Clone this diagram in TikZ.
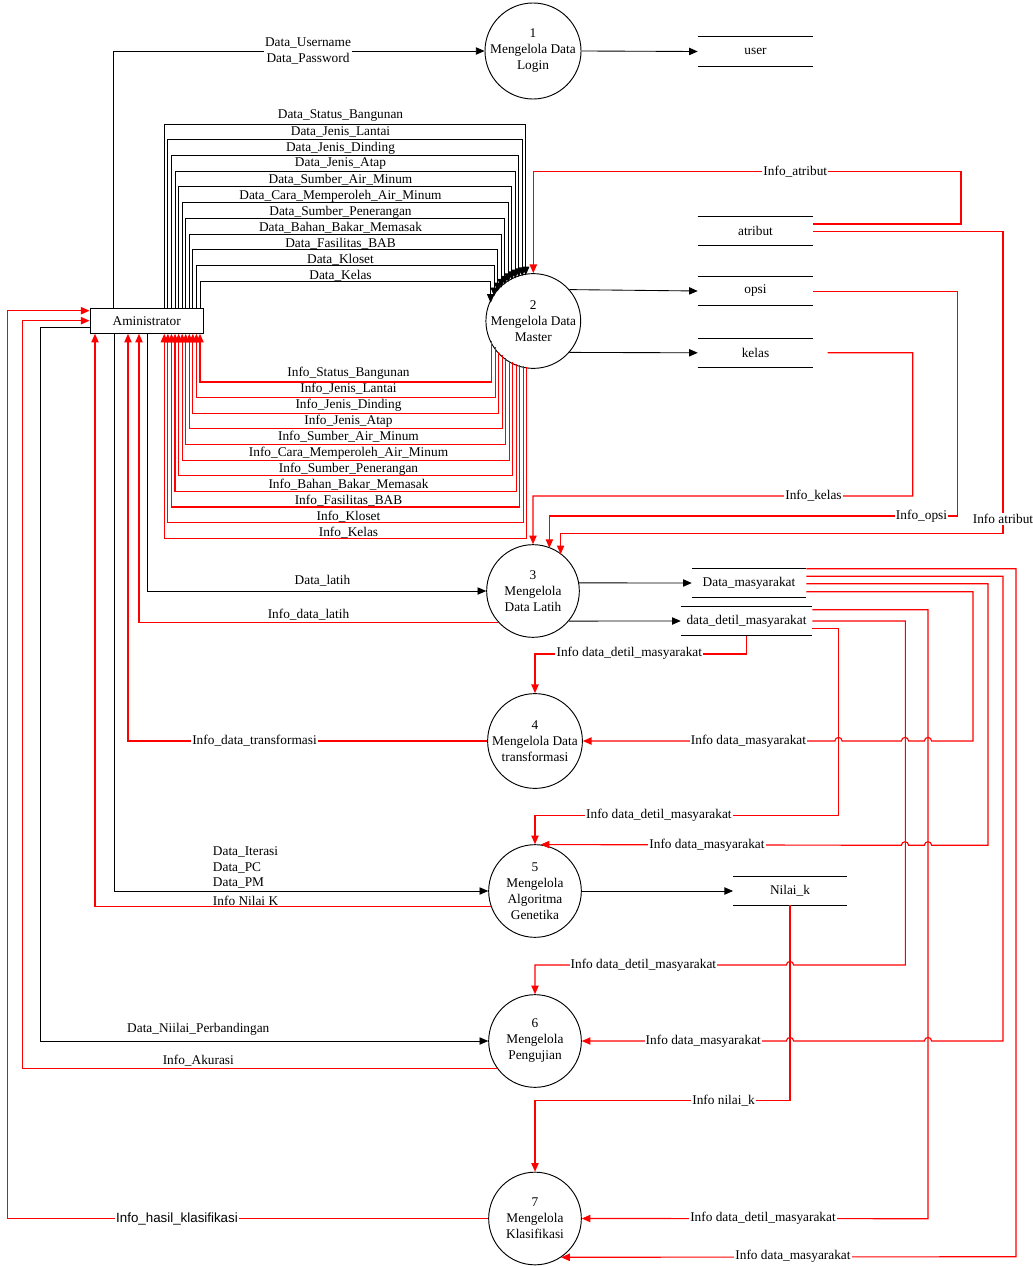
\documentclass[tikz,border=0pt]{standalone}
\usepackage{fontspec}
\setmainfont{Liberation Serif}
\newfontfamily\arialfont{Liberation Sans}
\usetikzlibrary{arrows.meta,calc}
\begin{document}
\begin{tikzpicture}[x=0.75pt,y=-0.75pt,
  every node/.style={font=\fontsize{10}{12}\selectfont},
  proc/.style={circle,draw,line width=0.7pt,minimum size=69.5pt,inner sep=0pt,align=center},
  ent/.style={draw,line width=0.7pt,minimum width=85pt,minimum height=18.75pt,inner sep=0pt},
  store/.style={minimum height=21pt,inner sep=0pt},
  lbl/.style={fill=white,inner sep=0.8pt},
  tlbl/.style={inner sep=0pt},
  flow/.style={line width=0.65pt,-{Triangle[length=6.5pt,width=5.5pt]}},
  rflow/.style={flow,line width=0.85pt,red},
  ln/.style={line width=0.7pt}]
\useasboundingbox (0,0) rectangle (1032,1266);

% ---------- nodes ----------
\node[ent] (adm) at (146.7,320.8) {Aministrator};
\node[proc] (p1) at (533,51) {1\\Mengelola Data\\Login};
\node[proc] (p2) at (533.3,321) {2\\Mengelola Data\\Master};
\node[proc] (p3) at (533,591) {3\\Mengelola\\Data Latih};
\node[proc] (p4) at (535,741) {4\\Mengelola Data\\transformasi};
\node[proc] (p5) at (535,891) {5\\Mengelola\\Algoritma\\Genetika};
\node[proc] (p6) at (535,1041) {6\\Mengelola\\Pengujian};
\node[proc] (p7) at (535,1218.5) {7\\Mengelola\\Klasifikasi};

\node[store,minimum width=86.25pt,minimum height=21.75pt] (user) at (755.5,51.5) {user};
\node[store,minimum width=86.25pt] (atribut) at (755.5,231) {atribut};
\node[store,minimum width=86.25pt] (opsi) at (755.5,291) {opsi};
\node[store,minimum width=86.25pt] (kelas) at (755.5,352.8) {kelas};
\node[store,minimum width=85.5pt] (dm) at (749,583) {Data\_masyarakat};
\node[store,minimum width=98.25pt,minimum height=22pt] (ddm) at (746.5,621) {data\_detil\_masyarakat};
\node[store,minimum width=85pt] (nk) at (790,891) {Nilai\_k};
\foreach \s in {user,atribut,opsi,kelas,dm,ddm,nk}{
  \draw[ln] (\s.north west) -- (\s.north east) (\s.south west) -- (\s.south east);
}

% ---------- login ----------
\draw[flow] (113.3,0 |- adm.north) |- (p1.west);
\draw[flow] (p1.east) -- (user.west);
\node[lbl,align=center] (lu) at (308,50.5) {Data\_Username\\Data\_Password};

% ---------- master data bundle ----------
\foreach \k in {0,...,10}{
  \pgfmathsetmacro\lx{164.3+3.57*\k}
  \pgfmathsetmacro\ty{124+15.73*\k}
  \pgfmathsetmacro\rx{525.7-3.5*\k}
  \pgfmathsetmacro\ey{321-sqrt(46.3^2-(\rx-533.3)^2)}
  \draw[flow] (\lx,0 |- adm.north) -- (\lx,\ty) -- (\rx,\ty) -- (\rx,\ey);
  \pgfmathsetmacro\ix{200-3.57*\k}
  \pgfmathsetmacro\by{382+15.63*\k}
  \pgfmathsetmacro\jx{491.7+3.5*\k}
  \pgfmathsetmacro\sy{321+sqrt(46.3^2-(\jx-533.3)^2)}
  \draw[rflow] (\jx,\sy) -- (\jx,\by) -- (\ix,\by) -- (\ix,0 |- adm.south);
}
\foreach \k/\t in {0/Data\_Status\_Bangunan,1/Data\_Jenis\_Lantai,2/Data\_Jenis\_Dinding,3/Data\_Jenis\_Atap,4/Data\_Sumber\_Air\_Minum,5/Data\_Cara\_Memperoleh\_Air\_Minum,6/Data\_Sumber\_Penerangan,7/Data\_Bahan\_Bakar\_Memasak,8/Data\_Fasilitas\_BAB,9/Data\_Kloset,10/Data\_Kelas}{
  \node[tlbl] (dl\k) at (340.5,{116+16*\k}) {\t};
}
\foreach \k/\t in {0/Info\_Status\_Bangunan,1/Info\_Jenis\_Lantai,2/Info\_Jenis\_Dinding,3/Info\_Jenis\_Atap,4/Info\_Sumber\_Air\_Minum,5/Info\_Cara\_Memperoleh\_Air\_Minum,6/Info\_Sumber\_Penerangan,7/Info\_Bahan\_Bakar\_Memasak,8/Info\_Fasilitas\_BAB,9/Info\_Kloset,10/Info\_Kelas}{
  \node[tlbl] (il\k) at (348.5,{373+16*\k}) {\t};
}

% ---------- master stores ----------
\draw[flow] (p2.41) -- (opsi.west);
\draw[flow] (p2.-41) -- (kelas.west);
\draw[rflow] (atribut.east |- 0,224) -- (961,224) -- (961,171.7) -- (533.3,171.7) -- (p2.north);
\node[lbl] (lia) at (795.3,171.7) {Info\_atribut};
\draw[rflow] (atribut.east |- 0,231.7) -- (1003,231.7) -- (1003,533.7) -- (560.6,533.7) -- (560.6,554.2);
\node[lbl] (lib) at (1003,519.3) {Info atribut};
\draw[rflow] (opsi.east |- 0,291.7) -- (957.8,291.7) -- (957.8,516) -- (549.4,516) -- (549.4,548);
\node[lbl] (lio) at (921.5,516) {Info\_opsi};
\draw[rflow] (827.5,0 |- kelas.east) -- (912.7,352.7) -- (912.7,496) -| (p3.north);
\node[lbl] (lik) at (813.5,496) {Info\_kelas};

% ---------- process 3 ----------
\draw[flow] (147,0 |- adm.south) |- (p3.west);
\node[tlbl] (ldl) at (322.5,581) {Data\_latih};
\draw[rflow] (p3.222) -| (139,0 |- adm.south);
\node[tlbl] (lidl) at (308.5,614.5) {Info\_data\_latih};
\draw[flow] (p3.10) -- (dm.west);
\draw[flow] (p3.-40.7) -- (ddm.west);

% ---------- process 4 ----------
\draw[rflow] (ddm.south) -- ++(0,18) -| (p4.north);
\node[lbl] (l4a) at (629.3,653.7) {Info data\_detil\_masyarakat};
\draw[rflow] (p4.west) -| (128,0 |- adm.south);
\node[lbl] (l4t) at (254.5,741) {Info\_data\_transformasi};
\draw[rflow] (dm.east |- 0,591.7) -- (973,591.7) -- (973,741)
  -- (931.6,741) .. controls (931.6,736.3) and (924.4,736.3) .. (924.4,741)
  -- (908.6,741) .. controls (908.6,736.3) and (901.4,736.3) .. (901.4,741)
  -- (842.1,741) .. controls (842.1,736.3) and (834.9,736.3) .. (834.9,741)
  -- (p4.east);
\node[lbl] (l4b) at (748.5,741) {Info data\_masyarakat};

% ---------- process 5 ----------
\draw[rflow] (ddm.east |- 0,628.7) -- (838.5,628.7) -- (838.5,815.7) -| (p5.north);
\node[lbl] (l5a) at (658.9,815.7) {Info data\_detil\_masyarakat};
\draw[rflow] (dm.east |- 0,583.7) -- (988,583.7) -- (988,845.3)
  -- (931.6,845.3) .. controls (931.6,840.6) and (924.4,840.6) .. (924.4,845.3)
  -- (908.6,845.3) .. controls (908.6,840.6) and (901.4,840.6) .. (901.4,845.3)
  -- (p5.83);
\node[lbl] (l5b) at (707,845.3) {Info data\_masyarakat};
\draw[flow] (114.3,0 |- adm.south) |- (p5.west);
\node[tlbl,anchor=west] (l5c) at (212.7,851.7) {Data\_Iterasi};
\node[tlbl,anchor=west] (l5d) at (212.7,867.7) {Data\_PC};
\node[tlbl,anchor=west] (l5e) at (212.7,883.3) {Data\_PM};
\node[tlbl,anchor=west] (l5f) at (212.7,900.7) {Info Nilai K};
\draw[rflow] (p5.199.4) -| (95,0 |- adm.south);
\draw[flow] (p5.east) -- (nk.west);

% ---------- process 6 ----------
\draw[rflow] (ddm.east |- 0,621) -- (905.4,621) -- (905.4,965)
  -- (793.6,965) .. controls (793.6,960.3) and (786.4,960.3) .. (786.4,965)
  -| (p6.north);
\node[lbl] (l6a) at (643.4,965) {Info data\_detil\_masyarakat};
\draw[rflow] (dm.east |- 0,576.3) -- (1003,576.3) -- (1003,1041)
  -- (931.6,1041) .. controls (931.6,1036.3) and (924.4,1036.3) .. (924.4,1041)
  -- (793.6,1041) .. controls (793.6,1036.3) and (786.4,1036.3) .. (786.4,1041)
  -- (p6.east);
\node[lbl] (l6b) at (703.3,1041) {Info data\_masyarakat};
\draw[flow] (adm.west |- 0,327.7) -- (40,327.7) |- (p6.west);
\node[tlbl] (l6c) at (198.3,1029.7) {Data\_Niilai\_Perbandingan};
\draw[rflow] (p6.216.4) -| (22.3,320.7) -- (adm.west |- 0,320.7);
\node[tlbl] (l6d) at (198.3,1061) {Info\_Akurasi};

% ---------- process 7 ----------
\draw[rflow] (nk.south) -- (790,1100.3) -| (p7.north);
\node[lbl] (l7a) at (723.6,1100.3) {Info nilai\_k};
\draw[rflow] (ddm.east |- 0,609.7) -- (928,609.7) -- (928,1218.7) -- (p7.east);
\node[lbl] (l7b) at (763,1218.7) {Info data\_detil\_masyarakat};
\draw[rflow] (dm.east |- 0,568.7) -- (1016,568.7) -- (1016,1256.7) -- (p7.-56.2);
\node[lbl] (l7c) at (793,1256.7) {Info data\_masyarakat};
\draw[rflow] (p7.west) -| (7.3,310.7) -- (adm.west |- 0,310.7);
\node[lbl,font=\arialfont\fontsize{10}{12}\selectfont] (l7d) at (177,1218.5) {Info\_hasil\_klasifikasi};
\end{tikzpicture}
\end{document}
